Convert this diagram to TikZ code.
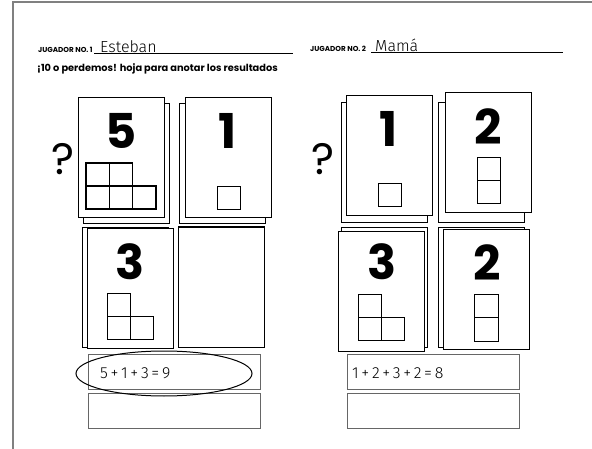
\documentclass[tikz,border=0pt]{standalone}
\usepackage{fontspec}
\setmainfont{Poppins}
\newfontfamily\hand{Fira Sans Light}
\begin{document}
\begin{tikzpicture}[
  x=1pt, y=-1pt,
  card/.style={draw, fill=white, line width=0.8pt, minimum width=86pt,
               minimum height=120pt, inner sep=0pt},
  digit/.style={font=\fontsize{48}{48}\selectfont\bfseries, inner sep=0pt},
  sq/.style={draw, line width=0.8pt},
  thicksq/.style={draw, line width=1.5pt},
  resbox/.style={draw, gray!80!black, line width=0.9pt, minimum width=172pt,
                 minimum height=35pt, inner sep=0pt},
  label/.style={font=\fontsize{7.2}{7.2}\selectfont\bfseries, anchor=base west, inner sep=0pt},
  written/.style={font=\hand\fontsize{16}{16}\selectfont, anchor=base west, inner sep=0pt},
  sum/.style={font=\hand\fontsize{16}{16}\selectfont, anchor=west, inner sep=0pt},
  ask/.style={font=\fontsize{44}{44}\selectfont, inner sep=0pt}
]
\useasboundingbox (0,0) rectangle (592,449);
% frame
\draw[gray, line width=1.5pt] (13,449) -- (13,2) -- (592,2);
% header
\node[label] (p1) at (38,53) {JUGADOR NO. 1};
\node[written] (n1) at (100,53) {Esteban};
\draw[line width=0.8pt] (94,53.5) -- (293,53.5);
\node[label] (p2) at (310,51.5) {JUGADOR NO. 2};
\node[written] (n2) at (375,51.5) {Mamá};
\draw[line width=0.8pt] (371,52) -- (563,52);
\node[font=\fontsize{9.8}{9.8}\selectfont\bfseries, anchor=base west, inner sep=0pt] (title) at (37,72)
  {¡10 o perdemos! hoja para anotar los resultados};
% player 1
\node[ask] (q1) at (63.5,159) {?};
\node[card] (a5b) at (126,163) {};
\node[card] (a5)  at (121,157) {};
\node[digit] (d5) at (121,130.5) {5};
\foreach \i in {0,1} \draw[thicksq] (86+23.3*\i,163) rectangle +(23.3,23);
\foreach \i in {0,1,2} \draw[thicksq] (86+23.3*\i,186) rectangle +(23.3,23);
\node[card] (a1b) at (222,163) {};
\node[card] (a1)  at (228,157) {};
\node[digit] (d1) at (228,131) {1};
\draw[sq] (217,186) rectangle +(23,23);
\node[card] (a3b) at (125.5,287) {};
\node[card] (a3)  at (130,288) {};
\node[digit] (d3) at (130,261.5) {3};
\draw[sq] (107,293) rectangle +(23,23);
\foreach \i in {0,1} \draw[sq] (107+23*\i,316) rectangle +(23,23);
\node[card] (a0b) at (221.5,286.5) {};
\node[card] (a0)  at (221.5,287.5) {};
\node[resbox] (r1) at (174,371.5) {};
\node[resbox] (r2) at (174,410.5) {};
\node[sum] (s1) at (100,373) {5\,+\,1\,+\,3\,=\,9};
\draw[line width=1pt] (164,373.5) ellipse [x radius=88, y radius=22.5];
% player 2
\node[ask] (q2) at (323.5,159) {?};
\node[card] (b1b) at (384.5,162.5) {};
\node[card] (b1)  at (389.5,155.5) {};
\node[digit] (e1) at (389,129) {1};
\draw[sq] (378,183.5) rectangle +(23,23);
\node[card] (b2b) at (481,162.5) {};
\node[card] (b2)  at (488,152) {};
\node[digit] (e2) at (488,126.5) {2};
\foreach \j in {0,1} \draw[sq] (477,157+23*\j) rectangle +(23,23);
\node[card] (b3b) at (384.5,287.5) {};
\node[card] (b3)  at (381,291) {};
\node[digit] (e3) at (382,262) {3};
\draw[sq] (358,294) rectangle +(23,23);
\foreach \i in {0,1} \draw[sq] (358+23*\i,317) rectangle +(23,23);
\node[card] (b4b) at (481,287) {};
\node[card] (b4)  at (486,289) {};
\node[digit] (e4) at (487,262.5) {2};
\foreach \j in {0,1} \draw[sq] (474,294+23.5*\j) rectangle +(24,23.5);
\node[resbox] (t1) at (433,371.5) {};
\node[resbox] (t2) at (433,410.5) {};
\node[sum] (s2) at (352,373) {1\,+\,2\,+\,3\,+\,2\,=\,8};
\end{tikzpicture}
\end{document}
